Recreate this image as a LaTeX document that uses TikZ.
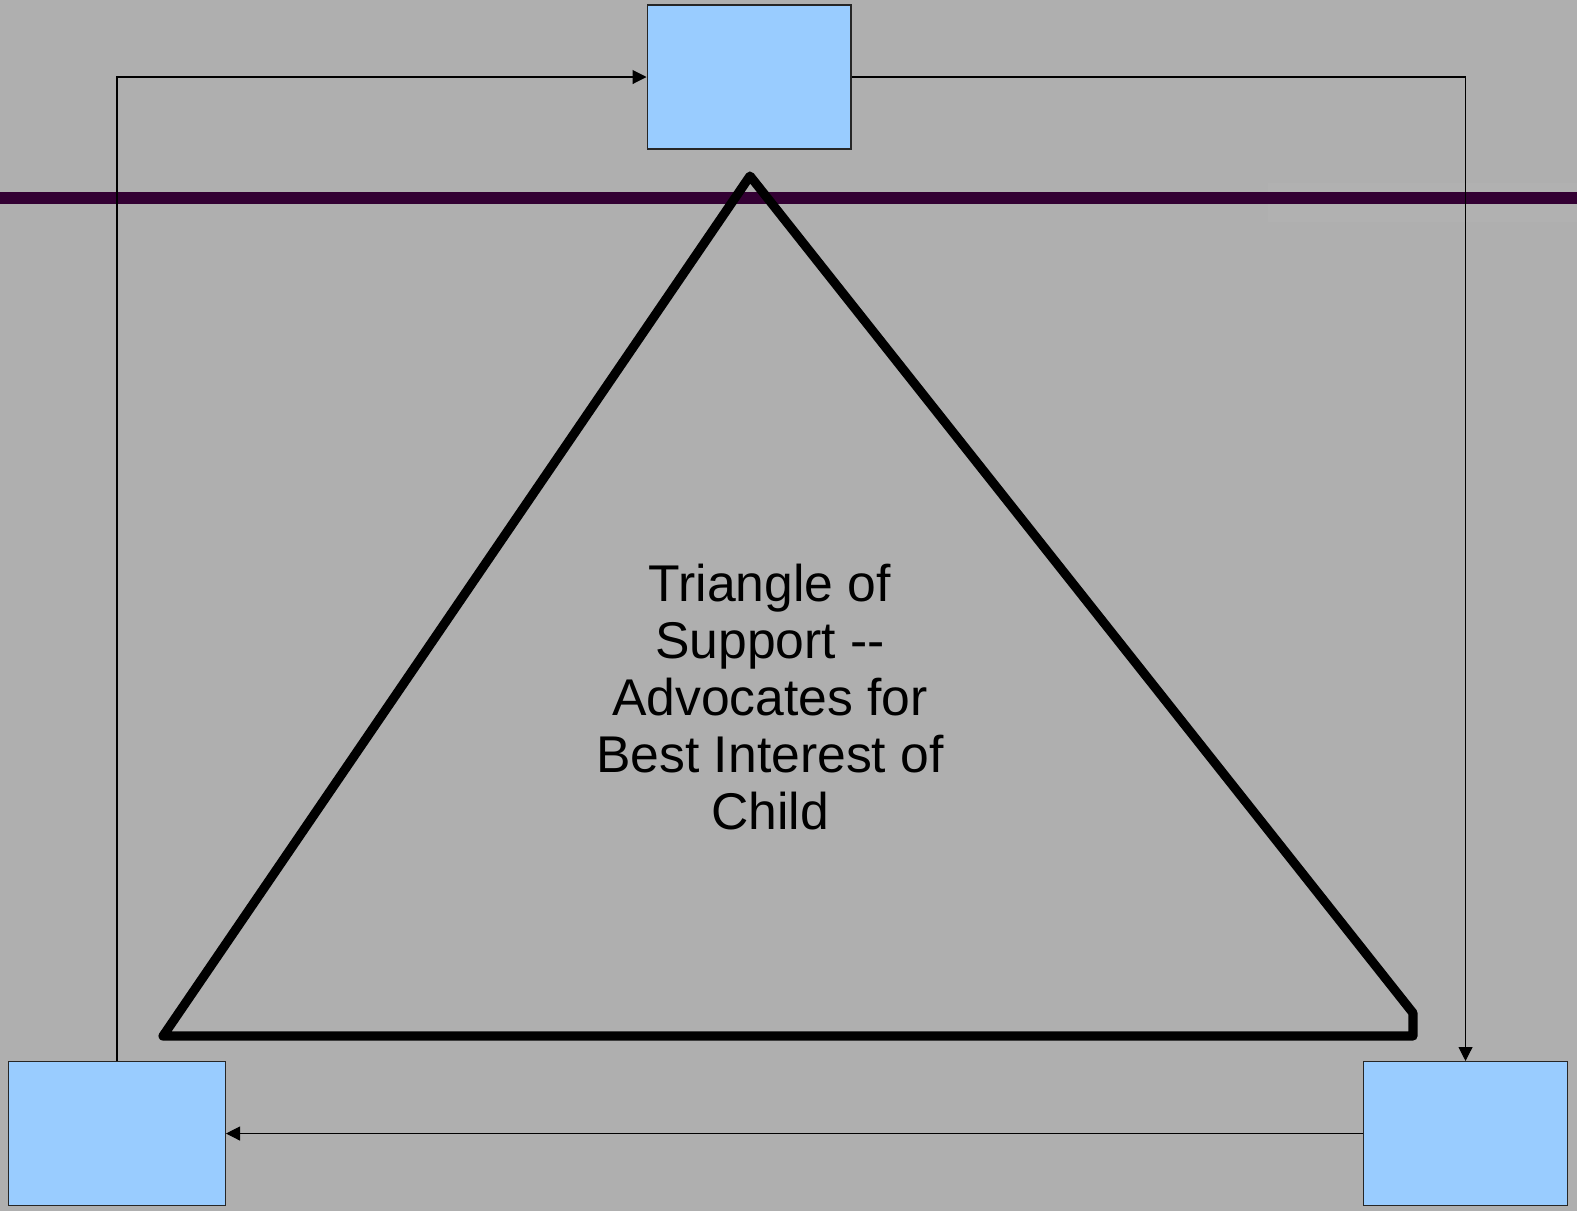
\documentclass[tikz,border=0pt]{standalone}
\usepackage{fontspec}
\setmainfont{Liberation Sans}
\usetikzlibrary{arrows.meta}
\definecolor{bg}{HTML}{AFAFAF}
\definecolor{boxfill}{HTML}{99CCFF}
\definecolor{bar}{HTML}{330033}
\tikzset{
  blbox/.style={draw=black!85, line width=0.6pt, fill=boxfill, inner sep=0pt},
  conn/.style={draw=black, line width=0.6pt, -{Triangle[length=0.28cm,width=0.28cm]}},
}
\begin{document}
\begin{tikzpicture}[x=0.02cm,y=-0.02cm]
\fill[bg] (0,0) rectangle (1577,1211);
\useasboundingbox (0,0) rectangle (1577,1211);
% faint band
\fill[white,opacity=0.03] (1268,183) rectangle (1577,222);
% purple bar
\draw[bar, line width=6.8pt] (0,198) -- (1577,198);
% triangle
\draw[black, line width=5.2pt, line join=round, line cap=round]
  (750,176) -- (1413,1013) -- (1413,1036) -- (163,1036) -- cycle;
\node[align=center, font=\fontsize{29.4pt}{32.4pt}\selectfont] (label) at (770,697)
  {Triangle of\\Support {-}{-}\\Advocates for\\Best Interest of\\Child};
% boxes
\node[blbox, minimum width=4.08cm, minimum height=2.88cm] (top) at (749,77) {};
\node[blbox, minimum width=4.34cm, minimum height=2.88cm] (left) at (117,1133.5) {};
\node[blbox, minimum width=4.08cm, minimum height=2.88cm] (right) at (1465.5,1133.5) {};
% connectors
\draw[conn] (left.north) |- (top.west);
\draw[conn] (top.east) -| (right.north);
\draw[conn] (right.west) -- (left.east);
\end{tikzpicture}
\end{document}
